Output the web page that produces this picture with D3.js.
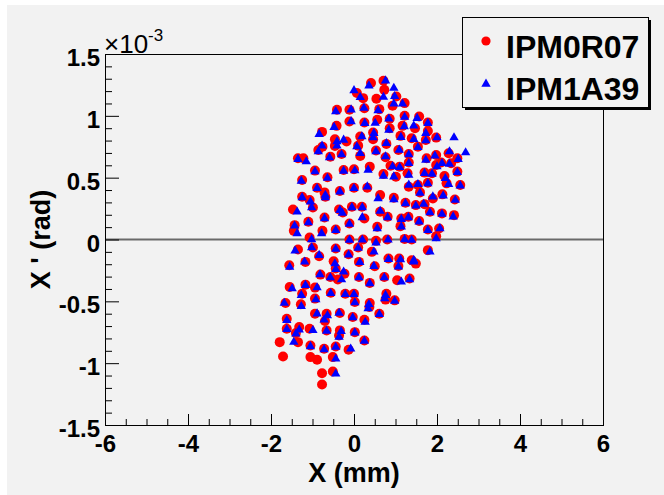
<!DOCTYPE html>
<html>
<head>
<meta charset="utf-8">
<script src="https://cdn.jsdelivr.net/npm/d3@7"></script>
<style>
  body { margin: 0; background: #fff; }
  svg { display: block; font-family: "Liberation Sans", Arial, sans-serif; }
</style>
</head>
<body>
<svg id="chart" width="664" height="495"></svg>
<script>
// series names (legend)
const seriesNames = ["IPM0R07", "IPM1A39"];

// X (mm), X' (x10^-3 rad)
const ipm0r07 = [
  [0.41,1.265],[0.71,1.284],[0.73,1.21],[0.07,1.184],[0.54,1.138],[0.22,1.143],[1.02,1.157],[1.22,1.103],
  [0.93,1.081],[-0.41,1.049],[-0.11,1.049],[0.25,1.062],[0.61,1.054],[1.57,0.995],[1.22,1.0],[0.86,0.976],
  [0.56,0.968],[0.25,0.946],[-0.11,0.954],[-0.42,0.919],[1.78,0.946],[1.47,0.9],[1.17,0.919],[0.86,0.9],
  [-0.77,0.87],[0.46,0.865],[1.78,0.878],[0.15,0.832],[-0.46,0.811],[-0.18,0.792],[0.46,0.811],[1.12,0.838],
  [1.39,0.819],[1.98,0.824],[1.73,0.805],[-0.76,0.751],[-0.46,0.757],[0.1,0.759],[0.78,0.773],[1.54,0.751],
  [1.07,0.724],[-0.86,0.724],[-0.3,0.692],[-0.57,0.67],[0.15,0.676],[0.53,0.719],[-1.22,0.657],[-1.35,0.657],
  [2.28,0.697],[1.98,0.684],[1.75,0.657],[0.76,0.665],[1.32,0.692],[2.49,0.657],[2.1,0.622],[1.32,0.622],
  [2.34,0.616],[1.98,0.603],[0.0,0.568],[0.38,0.589],[0.88,0.597],[1.1,0.589],[-0.25,0.562],[-1.25,0.481],
  [-0.94,0.557],[-0.64,0.503],[1.7,0.541],[1.88,0.535],[2.49,0.549],[1.29,0.535],[0.71,0.53],[1.01,0.508],
  [2.18,0.514],[2.56,0.441],[2.23,0.454],[1.78,0.459],[1.32,0.427],[1.54,0.441],[0.0,0.419],[0.32,0.419],
  [-0.89,0.419],[-0.71,0.381],[-0.34,0.392],[0.63,0.359],[0.96,0.338],[1.59,0.381],[2.13,0.365],[-1.25,0.346],
  [1.9,0.332],[2.43,0.324],[-1.07,0.319],[-0.69,0.346],[-0.36,0.243],[-0.05,0.265],[0.19,0.265],[1.24,0.297],
  [1.49,0.278],[0.63,0.224],[-1.47,0.243],[-0.99,0.259],[1.7,0.286],[2.12,0.211],[2.41,0.197],[1.83,0.224],
  [-0.71,0.178],[0.25,0.17],[-0.27,0.219],[0.81,0.184],[1.14,0.17],[1.31,0.184],[-1.1,0.143],[-1.43,0.116],
  [-0.11,0.13],[1.57,0.149],[-1.45,0.07],[0.56,0.103],[1.12,0.108],[1.78,0.081],[2.05,0.089],[-0.76,0.07],
  [-0.44,0.081],[-1.07,0.016],[1.98,0.027],[-0.11,0.0],[0.22,0.0],[0.53,-0.011],[0.8,0.0],[1.22,0.005],
  [1.39,0.0],[-1.35,-0.081],[-0.99,-0.065],[-0.44,-0.073],[0.1,-0.065],[0.43,-0.1],[1.78,-0.086],[1.09,-0.154],
  [1.39,-0.168],[-0.84,-0.135],[-0.13,-0.119],[0.83,-0.154],[-1.56,-0.208],[-1.17,-0.181],[-0.49,-0.176],[0.12,-0.181],
  [1.49,-0.195],[0.5,-0.216],[1.07,-0.214],[-0.81,-0.284],[-0.44,-0.235],[-0.23,-0.276],[0.12,-0.303],[0.73,-0.303],
  [1.04,-0.33],[1.34,-0.316],[-0.57,-0.303],[-0.39,-0.324],[0.38,-0.351],[-1.55,-0.384],[-1.17,-0.365],[-0.94,-0.389],
  [-0.56,-0.43],[-0.21,-0.438],[0.0,-0.438],[0.78,-0.438],[-1.25,-0.438],[-1.65,-0.514],[-1.28,-0.524],[-0.94,-0.478],
  [0.02,-0.505],[0.38,-0.514],[0.98,-0.492],[0.76,-0.486],[-0.94,-0.6],[-0.66,-0.6],[-0.34,-0.595],[0.61,-0.6],
  [0.37,-0.546],[-1.62,-0.641],[-0.03,-0.627],[0.25,-0.649],[-0.7,-0.659],[-1.32,-0.708],[-1.62,-0.722],[-1.07,-0.722],
  [-0.66,-0.735],[-0.34,-0.735],[0.02,-0.749],[-1.4,-0.757],[-0.36,-0.776],[0.25,-0.816],[-1.79,-0.83],[-1.35,-0.83],
  [-1.05,-0.857],[-0.72,-0.884],[-0.44,-0.865],[-0.13,-0.892],[-1.71,-0.946],[-1.05,-0.951],[-0.89,-0.973],[-0.51,-0.951],
  [-0.77,-1.081],[-0.51,-1.068],[-0.77,-1.173]
];

const ipm1a39 = [
  [0.36,1.243],[0.76,1.284],[0.96,1.224],[0.0,1.205],[0.71,1.151],[0.15,1.149],[0.98,1.157],[1.17,1.097],
  [0.96,1.097],[-0.44,1.035],[-0.07,1.049],[0.24,1.062],[0.58,1.043],[1.52,0.981],[1.22,0.99],[0.84,0.976],
  [0.51,0.941],[0.26,0.94],[-0.07,0.954],[-0.48,0.908],[1.78,0.94],[1.44,0.919],[1.21,0.914],[0.84,0.886],
  [-0.84,0.851],[0.48,0.859],[1.73,0.859],[0.19,0.832],[-0.41,0.792],[-0.25,0.805],[0.46,0.824],[1.13,0.827],
  [1.44,0.811],[2.0,0.824],[2.41,0.824],[1.73,0.8],[-0.77,0.757],[-0.41,0.757],[0.07,0.751],[0.78,0.778],
  [1.54,0.745],[1.09,0.724],[-0.86,0.711],[-0.3,0.686],[-0.59,0.662],[0.15,0.697],[0.53,0.712],[-1.15,0.63],
  [-1.35,0.649],[2.3,0.711],[2.69,0.703],[1.95,0.676],[1.73,0.643],[0.76,0.67],[1.32,0.686],[2.51,0.649],
  [2.12,0.616],[1.32,0.616],[2.3,0.61],[2.0,0.589],[0.02,0.557],[0.34,0.562],[0.93,0.589],[1.1,0.583],
  [-0.25,0.554],[-1.27,0.473],[-0.94,0.55],[-0.64,0.497],[1.7,0.535],[1.88,0.53],[2.49,0.543],[1.32,0.522],
  [0.71,0.514],[0.96,0.508],[2.2,0.495],[2.56,0.435],[2.28,0.446],[1.78,0.453],[1.32,0.441],[1.54,0.446],
  [0.0,0.414],[0.32,0.427],[-0.89,0.414],[-0.69,0.359],[-0.34,0.386],[0.58,0.332],[0.96,0.324],[1.59,0.375],
  [2.15,0.354],[-1.25,0.34],[1.9,0.346],[2.44,0.319],[-1.05,0.305],[-0.69,0.34],[-0.34,0.237],[-0.05,0.259],
  [0.2,0.259],[1.24,0.291],[1.49,0.272],[0.63,0.23],[-1.37,0.224],[-1.02,0.259],[1.68,0.286],[2.12,0.205],
  [2.39,0.184],[1.83,0.218],[-0.71,0.17],[0.2,0.178],[-0.28,0.213],[0.81,0.178],[1.14,0.164],[1.31,0.178],
  [-1.1,0.137],[-1.43,0.11],[-0.11,0.124],[1.57,0.143],[-1.37,0.049],[0.56,0.089],[1.14,0.103],[1.78,0.075],
  [2.07,0.089],[-0.78,0.049],[-0.44,0.075],[-1.02,0.0],[1.98,0.008],[-0.11,-0.005],[0.2,-0.003],[0.53,-0.027],
  [0.82,-0.003],[1.22,0.0],[1.39,-0.005],[-1.42,-0.092],[-1.02,-0.065],[-0.44,-0.078],[0.1,-0.07],[0.48,-0.1],
  [1.83,-0.1],[1.12,-0.162],[1.44,-0.168],[-0.84,-0.127],[-0.13,-0.124],[0.83,-0.16],[-1.55,-0.222],[-1.19,-0.181],
  [-0.46,-0.195],[0.14,-0.185],[1.44,-0.181],[0.48,-0.216],[1.07,-0.22],[-0.82,-0.284],[-0.44,-0.24],[-0.25,-0.262],
  [0.12,-0.308],[0.73,-0.308],[1.14,-0.343],[1.34,-0.324],[-0.57,-0.308],[-0.3,-0.324],[0.38,-0.356],[-1.49,-0.397],
  [-1.17,-0.37],[-0.89,-0.389],[-0.56,-0.435],[-0.21,-0.443],[0.0,-0.443],[0.76,-0.451],[-1.27,-0.451],[-1.68,-0.514],
  [-1.27,-0.541],[-0.92,-0.486],[0.02,-0.51],[0.36,-0.524],[0.98,-0.497],[0.74,-0.478],[-0.89,-0.6],[-0.64,-0.614],
  [-0.36,-0.595],[0.61,-0.605],[0.34,-0.559],[-1.62,-0.654],[-0.03,-0.632],[0.27,-0.668],[-0.72,-0.649],[-1.32,-0.73],
  [-1.62,-0.727],[-0.99,-0.735],[-0.66,-0.74],[-0.31,-0.743],[0.02,-0.754],[-1.4,-0.762],[-0.36,-0.789],[0.25,-0.821],
  [-1.45,-0.83],[-1.05,-0.865],[-0.72,-0.889],[-0.44,-0.87],[-0.08,-0.884],[-0.44,-0.965],[-0.44,-1.086]
];

// axis ticks
const xMajorTicks = [-6, -4, -2, 0, 2, 4, 6];
const yMajorTicks = [-1.5, -1, -0.5, 0, 0.5, 1, 1.5];

// --- 描画 ---
const svg = d3.select("#chart");
const W = 664, H = 495;
const plot = { left: 105, right: 603, top: 54, bottom: 425 };
const bg = "#f2f2f2";

// canvas background (ROOT gray, thin white edge)
svg.append("rect").attr("x", 7).attr("y", 5).attr("width", W - 7).attr("height", H - 5).attr("fill", bg);

const x = d3.scaleLinear().domain([-6, 6]).range([plot.left, plot.right]);
const y = d3.scaleLinear().domain([-1.5, 1.5]).range([plot.bottom, plot.top]);

// zero line
svg.append("line")
  .attr("x1", plot.left).attr("x2", plot.right)
  .attr("y1", y(0)).attr("y2", y(0))
  .attr("stroke", "#6a6a6a").attr("stroke-width", 2);

// minor ticks
const xMinor = d3.range(-6, 6.001, 0.5).filter(v => !xMajorTicks.includes(Math.round(v * 10) / 10));
const yMinor = d3.range(-15, 16, 1).map(v => v / 10).filter(v => !yMajorTicks.includes(v));

svg.append("g")
  .attr("transform", `translate(0,${plot.bottom})`)
  .call(d3.axisBottom(x).tickValues(xMinor).tickSize(-6).tickFormat(""))
  .call(g => g.select(".domain").remove());

svg.append("g")
  .attr("transform", `translate(${plot.left},0)`)
  .call(d3.axisLeft(y).tickValues(yMinor).tickSize(-7).tickFormat(""))
  .call(g => g.select(".domain").remove());

// major ticks + labels
const xAxis = svg.append("g")
  .attr("transform", `translate(0,${plot.bottom})`)
  .call(d3.axisBottom(x).tickValues(xMajorTicks).tickSize(-11).tickPadding(10).tickFormat(d => String(d)));
xAxis.select(".domain").remove();
xAxis.selectAll("text")
  .attr("font-size", 24).attr("font-weight", "bold").attr("fill", "#000")
  .attr("font-family", "'Liberation Sans', Arial, sans-serif");

const yAxis = svg.append("g")
  .attr("transform", `translate(${plot.left},0)`)
  .call(d3.axisLeft(y).tickValues(yMajorTicks).tickSize(-14).tickPadding(5).tickFormat(d => String(d)));
yAxis.select(".domain").remove();
yAxis.selectAll("text")
  .attr("dy", "0.48em")
  .attr("font-size", 24).attr("font-weight", "bold").attr("fill", "#000")
  .attr("font-family", "'Liberation Sans', Arial, sans-serif");

svg.selectAll(".tick line").attr("stroke", "#000").attr("stroke-width", 1);

// frame
svg.append("rect")
  .attr("x", plot.left + 0.5).attr("y", plot.top + 0.5)
  .attr("width", plot.right - plot.left).attr("height", plot.bottom - plot.top)
  .attr("fill", "none").attr("stroke", "#000").attr("stroke-width", 1);

// points: red circles then blue triangles on top
svg.append("g").selectAll("circle")
  .data(ipm0r07)
  .enter()
  .append("circle")
  .attr("cx", d => x(d[0]))
  .attr("cy", d => y(d[1]))
  .attr("r", 5)
  .attr("fill", "#ff0000");

const tri = d3.symbol().type(d3.symbolTriangle).size(38);
svg.append("g").selectAll("path")
  .data(ipm1a39)
  .enter()
  .append("path")
  .attr("d", tri)
  .attr("transform", d => `translate(${x(d[0])},${y(d[1])})`)
  .attr("fill", "#0000ff");

// multiplier label ×10^-3
const mult = svg.append("text")
  .attr("x", 104).attr("y", 53)
  .attr("font-size", 26).attr("fill", "#000");
mult.append("tspan").text("\u00d710");
mult.append("tspan").attr("font-size", 17).attr("dy", -12).text("-3");

// axis titles
svg.append("text")
  .attr("x", (plot.left + plot.right) / 2).attr("y", 482)
  .attr("text-anchor", "middle")
  .attr("font-size", 27).attr("font-weight", "bold")
  .text("X (mm)");

svg.append("text")
  .attr("transform", `translate(50,${(plot.top + plot.bottom) / 2}) rotate(-90)`)
  .attr("text-anchor", "middle")
  .attr("font-size", 27).attr("font-weight", "bold")
  .text("X ' (rad)");

// legend with shadow
const lg = { x: 462, y: 17, w: 186, h: 90 };
svg.append("rect").attr("x", lg.x + 3).attr("y", lg.y + 3).attr("width", lg.w).attr("height", lg.h).attr("fill", "#000");
svg.append("rect").attr("x", lg.x + 0.5).attr("y", lg.y + 0.5).attr("width", lg.w).attr("height", lg.h)
  .attr("fill", bg).attr("stroke", "#000").attr("stroke-width", 1);

svg.append("circle").attr("cx", 486).attr("cy", 41).attr("r", 4.6).attr("fill", "#ff0000");
svg.append("path").attr("d", tri).attr("transform", "translate(486,84)").attr("fill", "#0000ff");

svg.selectAll(".legend-label")
  .data(seriesNames)
  .enter()
  .append("text")
  .attr("class", "legend-label")
  .attr("x", 506)
  .attr("y", (d, i) => 58 + i * 42)
  .attr("font-size", 32).attr("font-weight", "bold")
  .text(d => d);
</script>
</body>
</html>
